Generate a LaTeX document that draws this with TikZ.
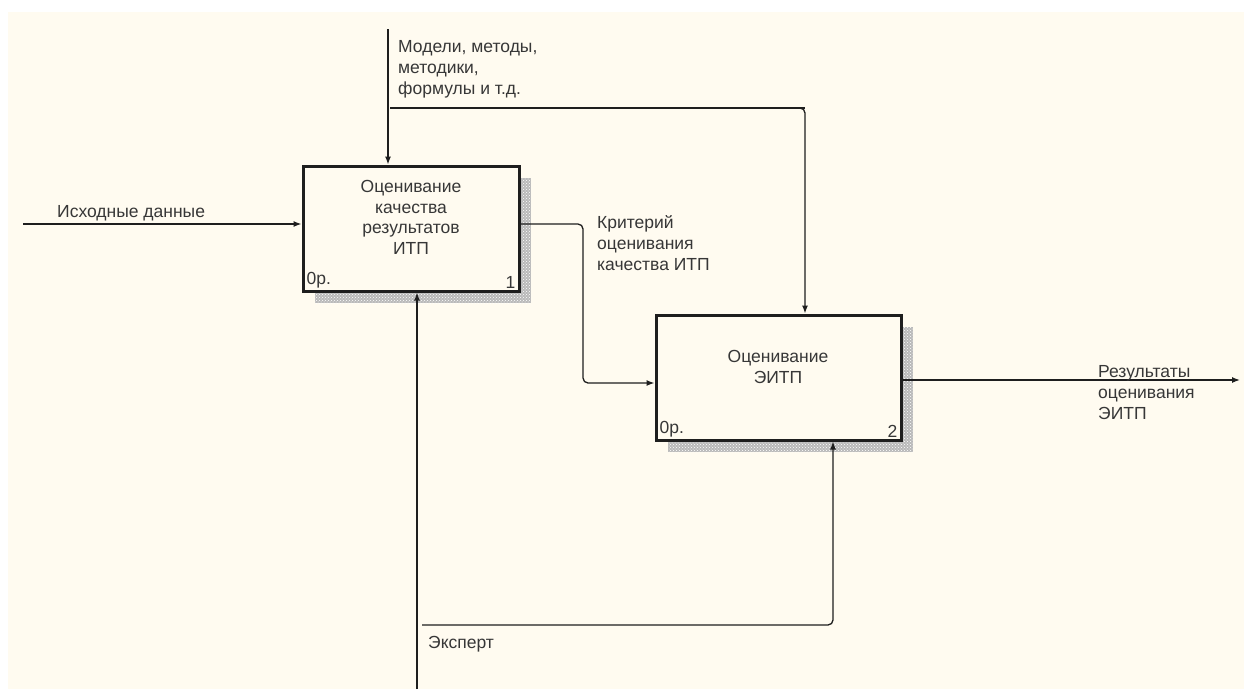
\documentclass[tikz,border=0pt]{standalone}
\usepackage{fontspec}
\setmainfont{Liberation Sans}
\usetikzlibrary{arrows.meta,patterns,calc}
\definecolor{bgcream}{RGB}{255,251,240}
\definecolor{txt}{RGB}{55,55,55}
\definecolor{ln}{RGB}{30,30,30}
\begin{document}
\begin{tikzpicture}[x=1pt,y=-1pt,
  lbl/.style={font=\fontsize{17.5}{21}\selectfont, text=txt, inner sep=0pt, align=left, anchor=north west},
  ttl/.style={font=\fontsize{17.5}{20.5}\selectfont, text=txt, inner sep=0pt, align=center},
  sml/.style={font=\fontsize{17.5}{19}\selectfont, text=txt, inner sep=0pt},
  actbox/.style={draw=ln, line width=3pt, fill=bgcream, inner sep=0pt},
  shd/.style={fill=gray!55},
  shdp/.style={pattern=crosshatch dots, pattern color=white},
  arr/.style={draw=ln, line width=1.3pt, -{Latex[length=8pt,width=6pt]}},
  cn/.style={draw=ln, line width=1.3pt, rounded corners=5pt}]
\useasboundingbox (0,0) rectangle (1244,689);
\fill[white] (0,0) rectangle (1244,689);
\fill[bgcream] (8,12) rectangle (1244,689);
% shadows
\fill[shd] (315,178) rectangle (531,303);
\fill[shdp] (315,178) rectangle (531,303);
\fill[shd] (668,327) rectangle (913,452);
\fill[shdp] (668,327) rectangle (913,452);
% boxes
\node[actbox, minimum width=216pt, minimum height=125pt] (b1) at (411,228.5) {};
\node[actbox, minimum width=245pt, minimum height=125pt] (b2) at (778.5,377.5) {};
\node[ttl, anchor=north] (t1) at (411,180.5) {Оценивание\\качества\\результатов\\ИТП};
\node[ttl, anchor=north] (t2) at (778,350.5) {Оценивание\\ЭИТП};
\node[sml, anchor=south west] (n1a) at ($(b1.south west)+(5,-4)$) {0р.};
\node[sml, anchor=south east] (n1b) at ($(b1.south east)+(-5,-4)$) {1};
\node[sml, anchor=south west] (n2a) at ($(b2.south west)+(5,-4)$) {0р.};
\node[sml, anchor=south east] (n2b) at ($(b2.south east)+(-5,-4)$) {2};
% coordinates
\coordinate (ctop) at (388,29);
\coordinate (cbr) at (390,108);
\coordinate (ccor) at (805,108);
\coordinate (inL) at (23,224);
\coordinate (o1) at (583,224);
\coordinate (o1b) at (583,383);
\coordinate (outR) at (1240,380);
\coordinate (mbot) at (417,689);
\coordinate (mbr) at (422,625);
\coordinate (mcor) at (833,625);
% control
\draw[arr] (ctop) -- (ctop |- b1.north);
\draw[cn] (cbr) -- (ccor);
\draw[arr, rounded corners=5pt] ($(ccor)+(-10,0)$) -- (ccor) -- (ccor |- b2.north);
% input
\draw[arr] (inL) -- (inL -| b1.west);
% output 1 -> input 2
\draw[arr, rounded corners=5pt] (o1 -| b1.east) -- (o1) -- (o1b) -- (o1b -| b2.west);
% output 2
\draw[arr] (outR -| b2.east) -- (outR);
% mechanism
\draw[arr] (mbot) -- (mbot |- b1.south);
\draw[arr, rounded corners=5pt] (mbr) -- (mcor) -- (mcor |- b2.south);
% labels
\node[lbl] (lc) at (398,40.5) {Модели, методы,\\методики,\\формулы и т.д.};
\node[lbl] (li) at (57,205.5) {Исходные данные};
\node[lbl] (lk) at (597,215.5) {Критерий\\оценивания\\качества ИТП};
\node[lbl] (lr) at (1098,365) {Результаты\\оценивания\\ЭИТП};
\node[lbl] (le) at (428,636.5) {Эксперт};
\end{tikzpicture}
\end{document}
